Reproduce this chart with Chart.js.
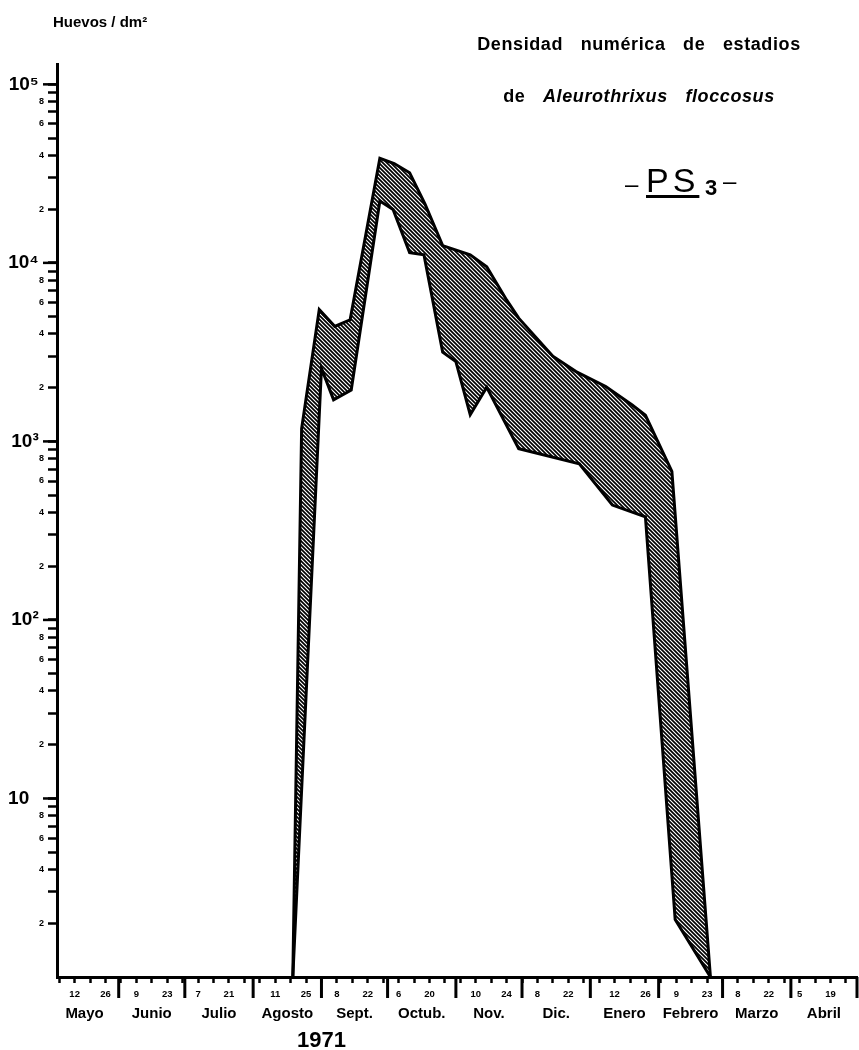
<!DOCTYPE html>
<html>
<head>
<meta charset="utf-8">
<script src="https://cdn.jsdelivr.net/npm/chart.js@4.4.1/dist/chart.umd.min.js"></script>
<style>
  html, body { margin: 0; padding: 0; background: #fff; }
  #wrap { position: relative; width: 859px; height: 1050px; color: #000;
          font-family: "Liberation Sans", Arial, sans-serif; }
  #c { position: absolute; left: 0; top: 0; }
  .t { position: absolute; white-space: nowrap; }
  #unit { left: 53px; top: 14px; font-size: 15px; line-height: 15px; font-weight: bold; }
  .title { left: 439px; width: 400px; text-align: center; font-size: 18px; line-height: 18px;
           font-weight: bold; letter-spacing: 0.6px; word-spacing: 12px; }
  .ps { font-size: 34px; line-height: 34px; letter-spacing: 4px; }
  .ps u { text-decoration-thickness: 2.5px; text-underline-offset: 3px; }
  .dash { font-size: 24px; line-height: 24px; }
  .sub { font-size: 22px; line-height: 22px; font-weight: bold; }
</style>
</head>
<body>
<div id="wrap">
  <canvas id="c" width="859" height="1050"></canvas>
  <div class="t" id="unit">Huevos / dm²</div>
  <div class="t title" style="top:35px">Densidad numérica de estadios</div>
  <div class="t title" style="top:87px">de <i>Aleurothrixus floccosus</i></div>
  <div class="t dash" style="left:625px; top:172px">–</div>
  <div class="t ps" style="left:646px; top:163px"><u>PS</u></div>
  <div class="t sub" style="left:705px; top:177px">3</div>
  <div class="t dash" style="left:723px; top:169px">–</div>
</div>
<script>
// eje x: días contados desde el 1 de mayo de 1971 (día 0)
const upperDays = [110, 114, 122, 129, 136, 149.5, 156, 163, 170, 178, 190.5, 198, 207, 212.5, 228, 238.5, 252, 264, 270, 282, 299.5];
const upperVals = [1, 1180, 5470, 4410, 4800, 38500, 36000, 32000, 21300, 12500, 11100, 9500, 6200, 4900, 3000, 2460, 2030, 1600, 1400, 680, 1];
const lowerDays = [110, 123, 128.5, 136.5, 149.5, 155.5, 163, 169.5, 178, 184, 190.5, 198, 212.5, 240, 255, 270, 283.5, 299.5];
const lowerVals = [1, 2570, 1710, 1940, 22200, 19900, 11400, 11100, 3160, 2800, 1410, 2010, 910, 750, 440, 378, 2.1, 1];

// marcas semanales y las que llevan número
const weekTicks = [4, 11, 18, 25, 32, 39, 46, 53, 60, 67, 74, 81, 88, 95, 102, 109, 116, 123, 130, 137,
  144, 151, 158, 165, 172, 179, 186, 193, 200, 207, 214, 221, 228, 235, 242, 249, 256, 263, 270, 277,
  284, 291, 298, 305, 312, 319, 326, 333, 340, 347, 354, 361];
const labeledDays = [11, 25, 39, 53, 67, 81, 102, 116, 130, 144, 158, 172, 193, 207, 221, 235, 256, 270, 284, 298, 312, 326, 340, 354];
const dayLabels = ['12', '26', '9', '23', '7', '21', '11', '25', '8', '22', '6', '20', '10', '24', '8', '22', '12', '26', '9', '23', '8', '22', '5', '19'];

const monthStarts = [0, 31, 61, 92, 123, 153, 184, 214, 245, 276, 305, 336, 366];
const monthNames = ['Mayo', 'Junio', 'Julio', 'Agosto', 'Sept.', 'Octub.', 'Nov.', 'Dic.', 'Enero', 'Febrero', 'Marzo', 'Abril'];
const yearLabel = '1971';
const yearAt = 123;

const yTickValues = [2, 3, 4, 5, 6, 7, 8, 9,
  10, 20, 30, 40, 50, 60, 70, 80, 90,
  100, 200, 300, 400, 500, 600, 700, 800, 900,
  1000, 2000, 3000, 4000, 5000, 6000, 7000, 8000, 9000,
  10000, 20000, 30000, 40000, 50000, 60000, 70000, 80000, 90000,
  100000];
const yTickLabels = ['2', '', '4', '', '6', '', '8', '',
  '10\u2002 ', '2', '', '4', '', '6', '', '8', '',
  '10² ', '2', '', '4', '', '6', '', '8', '',
  '10³ ', '2', '', '4', '', '6', '', '8', '',
  '10⁴ ', '2', '', '4', '', '6', '', '8', '',
  '10⁵ '];
const decades = [10, 100, 1000, 10000, 100000];

const FAMILY = '"Liberation Sans", Arial, sans-serif';

const canvas = document.getElementById('c');
const ctx = canvas.getContext('2d');

// rayado diagonal de la banda
const tile = document.createElement('canvas');
tile.width = 4; tile.height = 4;
const tc = tile.getContext('2d');
tc.strokeStyle = '#000';
tc.lineWidth = 1.7;
tc.beginPath();
tc.moveTo(-1, -1); tc.lineTo(5, 5);
tc.moveTo(-1, 3); tc.lineTo(1, 5);
tc.moveTo(3, -1); tc.lineTo(5, 1);
tc.stroke();
const hatch = ctx.createPattern(tile, 'repeat');

const extras = {
  id: 'extras',
  afterDraw(chart) {
    const { ctx, chartArea } = chart;
    const x = chart.scales.x, y = chart.scales.y;
    ctx.save();
    ctx.strokeStyle = '#000';
    ctx.fillStyle = '#000';
    ctx.lineWidth = 3;
    monthStarts.forEach(d => {
      if (d < x.min) return;
      const px = x.getPixelForValue(d);
      ctx.beginPath();
      ctx.moveTo(px, chartArea.bottom);
      ctx.lineTo(px, chartArea.bottom + 21);
      ctx.stroke();
    });
    ctx.lineWidth = 2.5;
    decades.forEach(v => {
      const py = y.getPixelForValue(v);
      ctx.beginPath();
      ctx.moveTo(chartArea.left - 14, py);
      ctx.lineTo(chartArea.left, py);
      ctx.stroke();
    });
    ctx.textAlign = 'center';
    ctx.textBaseline = 'alphabetic';
    ctx.font = 'bold 15px ' + FAMILY;
    monthNames.forEach((m, i) => {
      const px = x.getPixelForValue((monthStarts[i] + monthStarts[i + 1]) / 2);
      ctx.fillText(m, px, chartArea.bottom + 41);
    });
    ctx.font = 'bold 22px ' + FAMILY;
    ctx.fillText(yearLabel, x.getPixelForValue(yearAt), chartArea.bottom + 70);
    ctx.restore();
  }
};

new Chart(ctx, {
  type: 'line',
  data: {
    datasets: [{
      label: 'máximo',
      data: upperDays.map((d, i) => ({ x: d, y: upperVals[i] })),
      borderColor: '#000',
      borderWidth: 3,
      backgroundColor: hatch,
      fill: '+1',
      pointRadius: 0,
      tension: 0
    }, {
      label: 'mínimo',
      data: lowerDays.map((d, i) => ({ x: d, y: lowerVals[i] })),
      borderColor: '#000',
      borderWidth: 3,
      fill: false,
      pointRadius: 0,
      tension: 0
    }]
  },
  options: {
    responsive: false,
    animation: false,
    layout: { padding: { top: 64, right: 2, left: 0, bottom: 0 } },
    plugins: { legend: { display: false }, tooltip: { enabled: false } },
    scales: {
      x: {
        type: 'linear', min: 3, max: 366,
        afterBuildTicks: s => { s.ticks = weekTicks.map(v => ({ value: v })); },
        afterFit: s => { s.height = 73; },
        grid: { drawOnChartArea: false, tickLength: 6, tickWidth: 2.5, tickColor: '#000' },
        border: { color: '#000', width: 3 },
        ticks: {
          autoSkip: false, maxRotation: 0, minRotation: 0, padding: 6, color: '#000',
          font: { family: FAMILY, size: 9.5, weight: 'bold' },
          callback: v => { const i = labeledDays.indexOf(v); return i < 0 ? '' : dayLabels[i]; }
        }
      },
      y: {
        type: 'logarithmic', min: 1, max: 130000,
        afterBuildTicks: s => { s.ticks = yTickValues.map(v => ({ value: v })); },
        afterFit: s => { s.width = 57; },
        grid: { drawOnChartArea: false, tickLength: 9, tickWidth: 2.5, tickColor: '#000' },
        border: { color: '#000', width: 3 },
        ticks: {
          autoSkip: false, padding: 4, color: '#000',
          font: c => (c.tick && decades.includes(c.tick.value))
            ? { family: FAMILY, size: 19, weight: 'bold' }
            : { family: FAMILY, size: 9, weight: 'bold' },
          callback: (v, i) => yTickLabels[i]
        }
      }
    }
  },
  plugins: [extras]
});
</script>
</body>
</html>
